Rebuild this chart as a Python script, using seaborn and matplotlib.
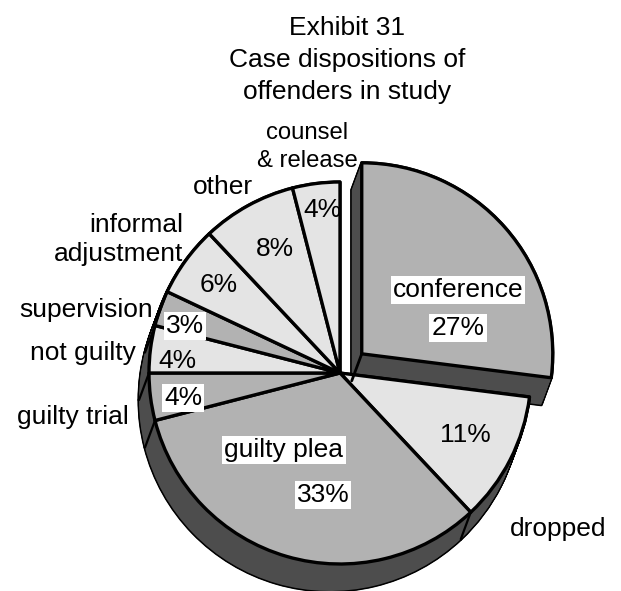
"""
Exhibit 31 - exploded 3D style pie of case dispositions
"""

import numpy as np
import matplotlib
matplotlib.use('Agg')
import matplotlib.pyplot as plt
import seaborn as sns

# data, clockwise from 12 o'clock
categories = ['conference', 'dropped', 'guilty plea', 'guilty trial', 'not guilty',
              'supervision', 'informal adjustment', 'other', 'counsel & release']
shares = [27, 11, 33, 4, 4, 3, 6, 8, 4]
shade = ['mid', 'light', 'mid', 'mid', 'light', 'mid', 'light', 'light', 'light']
title_lines = ['Exhibit 31', 'Case dispositions of', 'offenders in study']

W, H = 621, 591
RADIUS = 191
CENTER = (340, H - 373)
DEPTH = (-10, -27)     # where the bottom face sits relative to the top face
EXPLODE = 29           # pull of the conference slice

sns.set_theme(style='white')
plt.rcParams['font.family'] = ['Liberation Sans', 'DejaVu Sans']

greys = {'light': '#e4e4e4', 'mid': '#b2b2b2'}
dark = '#4d4d4d'
top_colors = [greys[s] for s in shade]
explode = [EXPLODE] + [0] * (len(shares) - 1)


def draw_pie(ax, colors, keep, offset=(0, 0), edge='black', lw=2.2):
    """One flat copy of the pie, keeping only the wedges picked in keep"""
    center = (CENTER[0] + offset[0], CENTER[1] + offset[1])
    wedges, _ = ax.pie(shares, colors=colors, explode=explode, center=center,
                       radius=RADIUS, startangle=90, counterclock=False,
                       frame=True,
                       wedgeprops={'edgecolor': edge, 'linewidth': lw,
                                   'joinstyle': 'round'})
    for w, k in zip(wedges, keep):
        if not k:
            w.remove()


def draw_side(ax, keep):
    """Dark side wall: black sweep first, dark fill over it"""
    steps = np.linspace(1, 0, 28)
    sides = [dark] * len(shares)
    for t in steps:
        draw_pie(ax, sides, keep, (DEPTH[0] * t, DEPTH[1] * t))
    for t in steps:
        draw_pie(ax, sides, keep, (DEPTH[0] * t, DEPTH[1] * t), edge='none', lw=0)
    draw_pie(ax, sides, keep, DEPTH, lw=1.6)
    for t in steps[:-1]:
        draw_pie(ax, sides, keep, (DEPTH[0] * t, DEPTH[1] * t), edge='none', lw=0)


fig, ax = plt.subplots(figsize=(W / 100, H / 100), dpi=100)
fig.subplots_adjust(0, 0, 1, 1)

only_conf = [i == 0 for i in range(len(shares))]
the_rest = [i != 0 for i in range(len(shares))]

# exploded slice goes first, the main body sits in front of it
draw_side(ax, only_conf)
conf_angle = np.deg2rad(90 - shares[0] * 3.6 / 2)
cx = CENTER[0] + EXPLODE * np.cos(conf_angle)
cy = CENTER[1] + EXPLODE * np.sin(conf_angle)
ax.plot([cx, cx + DEPTH[0]], [cy, cy + DEPTH[1]], color='black', lw=2)
draw_pie(ax, top_colors, only_conf, lw=2.4)

draw_side(ax, the_rest)
# seams on the side wall
edges = 90 - np.cumsum(shares) * 3.6
for a in np.deg2rad(edges[1:6]):
    x0 = CENTER[0] + RADIUS * np.cos(a)
    y0 = CENTER[1] + RADIUS * np.sin(a)
    ax.plot([x0, x0 + DEPTH[0]], [y0, y0 + DEPTH[1]], color='black', lw=1.6)
draw_pie(ax, top_colors, the_rest, lw=2.4)

ax.set_xlim(0, W)
ax.set_ylim(0, H)
ax.set_aspect('auto')
ax.axis('off')


def put(x, y, s, size=19, boxed=False, ha='center'):
    box = None
    if boxed:
        box = dict(facecolor='white', edgecolor='none', pad=1.5)
    ax.text(x, H - y - 2, s, fontsize=size, ha=ha, va='center', color='black',
            bbox=box, zorder=10)


for y, s in zip([26, 58, 90], title_lines):
    put(347, y, s)

# outside labels
put(558, 527, categories[1])
put(73, 415, categories[3])
put(83, 351, categories[4])
put(86, 308, categories[5])
put(183, 223, 'informal', ha='right')
put(183, 252, 'adjustment', ha='right')
put(223, 185, categories[7])
put(307, 131, 'counsel', size=17.2)
put(307, 159, '& release', size=17.2)

# inside labels
put(458, 288, categories[0], boxed=True)
put(284, 448, categories[2], boxed=True)
put(458, 326, f'{shares[0]}%', boxed=True)
put(465, 433, f'{shares[1]}%')
put(323, 493, f'{shares[2]}%', boxed=True)
put(183, 396, f'{shares[3]}%', boxed=True)
put(177, 359, f'{shares[4]}%')
put(185, 324, f'{shares[5]}%', boxed=True)
put(219, 283, f'{shares[6]}%')
put(275, 247, f'{shares[7]}%')
put(322, 208, f'{shares[8]}%')

fig.savefig('out.png', dpi=100)
